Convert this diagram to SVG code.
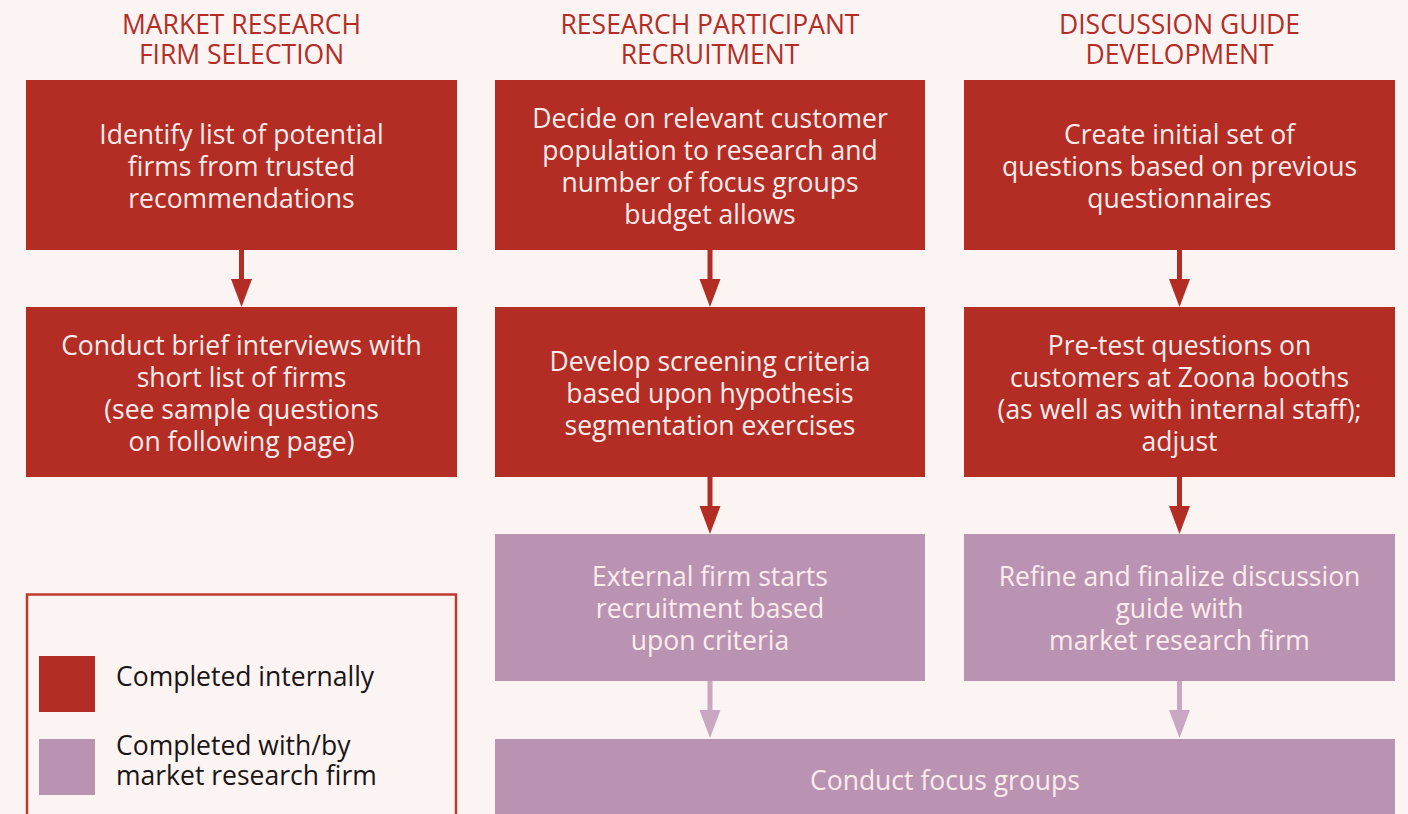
<svg xmlns="http://www.w3.org/2000/svg" width="1408" height="814" viewBox="0 0 1408 814">
  <style>
    .hdr { font-family: "Open Sans", "Noto Sans", sans-serif; font-size: 26.5px; fill: #b32d25; text-anchor: middle; }
    .lbl { font-family: "Open Sans", "Noto Sans", sans-serif; font-size: 26.5px; fill: #fbecec; text-anchor: middle; }
    .leg { font-family: "Open Sans", "Noto Sans", sans-serif; font-size: 26.5px; fill: #1a1414; }
    .red { fill: #b32d25; }
    .purple { fill: #bb93b2; }
    .wire-red { stroke: #b32d25; stroke-width: 5; fill: none; }
    .wire-purple { stroke: #c9a7c3; stroke-width: 5; fill: none; }
  </style>
  <defs>
    <marker id="head-red" markerUnits="userSpaceOnUse" markerWidth="22" markerHeight="29" refX="11" refY="0" orient="0" viewBox="0 0 22 29" overflow="visible">
      <polygon points="0.5,0 21.5,0 11,28" fill="#b32d25"/>
    </marker>
    <marker id="head-purple" markerUnits="userSpaceOnUse" markerWidth="22" markerHeight="29" refX="11" refY="0" orient="0" viewBox="0 0 22 29" overflow="visible">
      <polygon points="0.5,0 21.5,0 11,28" fill="#c9a7c3"/>
    </marker>
  </defs>

  <rect width="1408" height="814" fill="#fcf3f3"/>

  <!-- column headings -->
  <g id="headings">
    <text class="hdr" x="241.5" y="34">MARKET RESEARCH</text>
    <text class="hdr" x="241.5" y="64">FIRM SELECTION</text>
    <text class="hdr" x="710" y="34">RESEARCH PARTICIPANT</text>
    <text class="hdr" x="710" y="64">RECRUITMENT</text>
    <text class="hdr" x="1179.5" y="34">DISCUSSION GUIDE</text>
    <text class="hdr" x="1179.5" y="64">DEVELOPMENT</text>
  </g>

  <!-- connectors -->
  <g id="connectors">
    <line class="wire-red" x1="241.5" y1="250" x2="241.5" y2="279" marker-end="url(#head-red)"/>
    <line class="wire-red" x1="710" y1="250" x2="710" y2="279" marker-end="url(#head-red)"/>
    <line class="wire-red" x1="1179.5" y1="250" x2="1179.5" y2="279" marker-end="url(#head-red)"/>
    <line class="wire-red" x1="710" y1="477" x2="710" y2="506" marker-end="url(#head-red)"/>
    <line class="wire-red" x1="1179.5" y1="477" x2="1179.5" y2="506" marker-end="url(#head-red)"/>
    <line class="wire-purple" x1="710" y1="681" x2="710" y2="710" marker-end="url(#head-purple)"/>
    <line class="wire-purple" x1="1179.5" y1="681" x2="1179.5" y2="710" marker-end="url(#head-purple)"/>
  </g>

  <!-- firm selection -->
  <g id="identify-firms">
    <rect class="red" x="26" y="80" width="431" height="170"/>
    <text class="lbl" x="241.5" y="144">Identify list of potential</text>
    <text class="lbl" x="241.5" y="176">firms from trusted</text>
    <text class="lbl" x="241.5" y="208">recommendations</text>
  </g>
  <g id="interview-firms">
    <rect class="red" x="26" y="307" width="431" height="170"/>
    <text class="lbl" x="241.5" y="355">Conduct brief interviews with</text>
    <text class="lbl" x="241.5" y="387">short list of firms</text>
    <text class="lbl" x="241.5" y="419">(see sample questions</text>
    <text class="lbl" x="241.5" y="451">on following page)</text>
  </g>

  <!-- participant recruitment -->
  <g id="decide-population">
    <rect class="red" x="495" y="80" width="430" height="170"/>
    <text class="lbl" x="710" y="128">Decide on relevant customer</text>
    <text class="lbl" x="710" y="160">population to research and</text>
    <text class="lbl" x="710" y="192">number of focus groups</text>
    <text class="lbl" x="710" y="224">budget allows</text>
  </g>
  <g id="screening-criteria">
    <rect class="red" x="495" y="307" width="430" height="170"/>
    <text class="lbl" x="710" y="371">Develop screening criteria</text>
    <text class="lbl" x="710" y="403">based upon hypothesis</text>
    <text class="lbl" x="710" y="435">segmentation exercises</text>
  </g>
  <g id="start-recruitment">
    <rect class="purple" x="495" y="534" width="430" height="147"/>
    <text class="lbl" x="710" y="586">External firm starts</text>
    <text class="lbl" x="710" y="618">recruitment based</text>
    <text class="lbl" x="710" y="650">upon criteria</text>
  </g>

  <!-- discussion guide -->
  <g id="initial-questions">
    <rect class="red" x="964" y="80" width="431" height="170"/>
    <text class="lbl" x="1179.5" y="144">Create initial set of</text>
    <text class="lbl" x="1179.5" y="176">questions based on previous</text>
    <text class="lbl" x="1179.5" y="208">questionnaires</text>
  </g>
  <g id="pre-test">
    <rect class="red" x="964" y="307" width="431" height="170"/>
    <text class="lbl" x="1179.5" y="355">Pre-test questions on</text>
    <text class="lbl" x="1179.5" y="387">customers at Zoona booths</text>
    <text class="lbl" x="1179.5" y="419">(as well as with internal staff);</text>
    <text class="lbl" x="1179.5" y="451">adjust</text>
  </g>
  <g id="finalize-guide">
    <rect class="purple" x="964" y="534" width="431" height="147"/>
    <text class="lbl" x="1179.5" y="586">Refine and finalize discussion</text>
    <text class="lbl" x="1179.5" y="618">guide with</text>
    <text class="lbl" x="1179.5" y="650">market research firm</text>
  </g>

  <!-- shared final step -->
  <g id="focus-groups">
    <rect class="purple" x="495" y="739" width="900" height="90"/>
    <text class="lbl" x="945" y="790">Conduct focus groups</text>
  </g>

  <!-- legend -->
  <g id="legend">
    <rect x="27" y="594.5" width="429" height="240" fill="none" stroke="#c0392f" stroke-width="2.5"/>
    <rect class="red" x="39" y="656" width="56" height="56"/>
    <text class="leg" x="116" y="686">Completed internally</text>
    <rect class="purple" x="39" y="739" width="56" height="56"/>
    <text class="leg" x="116" y="755">Completed with/by</text>
    <text class="leg" x="116" y="785">market research firm</text>
  </g>
</svg>
